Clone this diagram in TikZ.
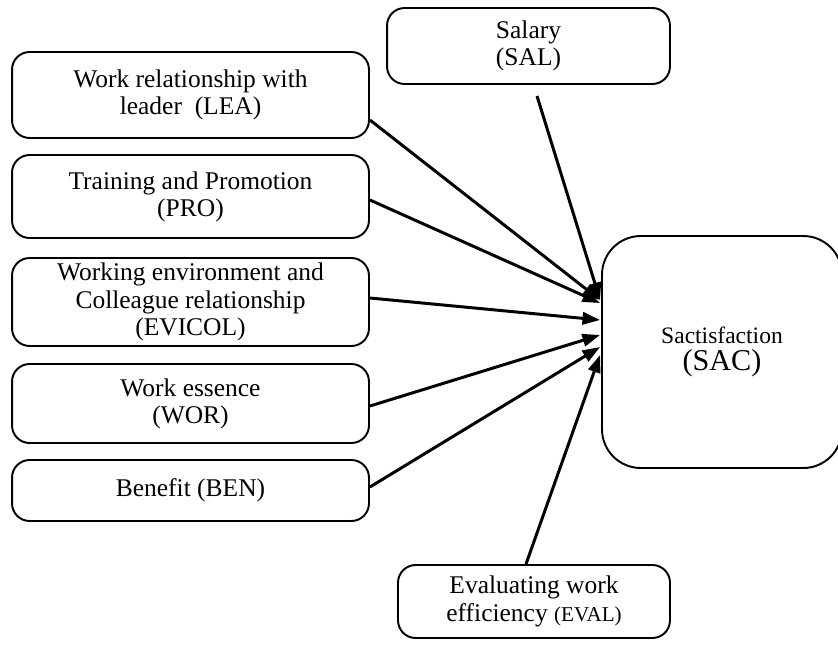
\documentclass[tikz,border=0pt]{standalone}
\usepackage{fontspec}
\setmainfont{Liberation Serif}
\usetikzlibrary{calc, arrows.meta}

\tikzset{
  factor/.style={draw, line width=1.1pt, rounded corners=10pt, align=center, inner sep=2pt,
    font=\fontsize{14.5}{15.5}\selectfont},
  link/.style={line width=1.7pt, -{Triangle[length=10pt,width=7pt]}}
}

\begin{document}
\begin{tikzpicture}[x=0.02cm, y=-0.02cm]
  \path[use as bounding box, clip] (0,0) rectangle (838,646);
  % factors on the left
  \node[factor, minimum width=7.14cm, minimum height=1.72cm] (lea) at (190.5,95) {Work relationship with\\leader\ \ (LEA)};
  \node[factor, minimum width=7.14cm, minimum height=1.66cm] (pro) at (190.5,196.5) {Training and Promotion\\(PRO)};
  \node[factor, minimum width=7.14cm, minimum height=1.76cm] (evicol) at (190.5,302) {Working environment and\\Colleague relationship\\(EVICOL)};
  \node[factor, minimum width=7.14cm, minimum height=1.58cm] (wor) at (190.5,403.5) {Work essence\\(WOR)};
  \node[factor, minimum width=7.14cm, minimum height=1.22cm] (ben) at (190.5,490.5) {Benefit (BEN)};
  % top and bottom factors
  \node[factor, minimum width=5.66cm, minimum height=1.52cm] (sal) at (528.5,46) {Salary\\(SAL)};
  \node[factor, minimum width=5.44cm, minimum height=1.46cm] (eval) at (534,601.5) {Evaluating work\\efficiency {\fontsize{12}{14}\selectfont(EVAL)}};
  % outcome
  \node[factor, rounded corners=22pt, minimum width=4.8cm, minimum height=4.64cm] (sac) at (722,352)
    {{\fontsize{13.4}{16}\selectfont Sactisfaction}\\{\fontsize{17.2}{20}\selectfont(SAC)}};

  \draw[link] ($(lea.east)+(0,25)$) -- ($(sac.west)+(-1,-52)$);
  \draw[link] ($(sal.south)+(8.5,11)$) -- ($(sac.west)+(-1,-52)$);
  \draw[link] ($(pro.east)+(0,3.5)$) -- ($(sac.west)+(-1,-49)$);
  \draw[link] ($(evicol.east)+(0,-4)$) -- ($(sac.west)+(-1,-32)$);
  \draw[link] ($(wor.east)+(0,2.5)$) -- ($(sac.west)+(-1,-17)$);
  \draw[link] ($(ben.east)+(0,-3.5)$) -- ($(sac.west)+(-1,-5)$);
  \draw[link] ($(eval.north)+(-8,0)$) -- ($(sac.west)+(-1,3)$);
\end{tikzpicture}
\end{document}
